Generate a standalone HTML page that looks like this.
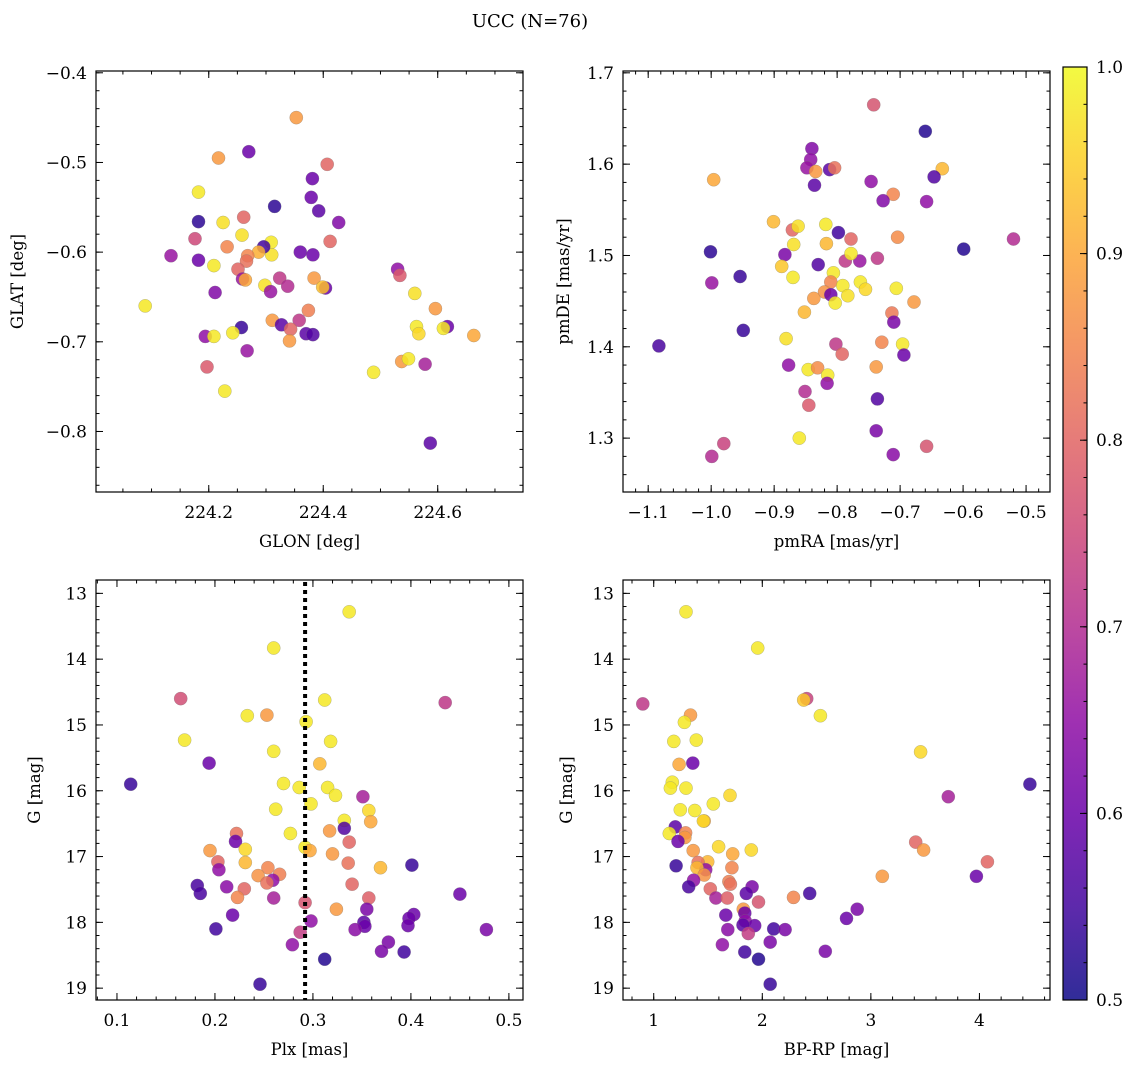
<!DOCTYPE html>
<html><head><meta charset="utf-8">
<style>
body{margin:0;background:#fff;}
svg{display:block;font-family:"DejaVu Serif","Liberation Serif",serif;}
</style></head>
<body>
<svg id="fig" width="1136" height="1067" viewBox="0 0 1136 1067" xmlns="http://www.w3.org/2000/svg">
<defs>
<linearGradient id="cbgrad" x1="0" y1="1" x2="0" y2="0">
<stop offset="0" stop-color="#0d0887"/><stop offset="0.1" stop-color="#41049d"/><stop offset="0.2" stop-color="#6a00a8"/><stop offset="0.3" stop-color="#8f0da4"/><stop offset="0.4" stop-color="#b12a90"/><stop offset="0.5" stop-color="#cc4778"/><stop offset="0.6" stop-color="#e16462"/><stop offset="0.7" stop-color="#f2844b"/><stop offset="0.8" stop-color="#fca636"/><stop offset="0.9" stop-color="#fcce25"/><stop offset="1" stop-color="#f0f921"/>
</linearGradient>
</defs>
<text x="530" y="27" font-size="18" text-anchor="middle">UCC (N=76)</text>
</svg>
<script>
// ---------- Panel 1: GLON vs GLAT ----------
const glonX=[224.353,224.270,224.217,224.407,224.182,224.381,224.379,224.315,224.392,224.427,224.182,224.225,224.261,224.258,224.176,224.412,224.134,224.182,224.232,224.209,224.309,224.310,224.296,224.287,224.268,224.266,224.360,224.382,224.251,224.259,224.264,224.324,224.338,224.298,224.308,224.211,224.384,224.404,224.399,224.089,224.374,224.358,224.311,224.327,224.343,224.341,224.370,224.382,224.257,224.242,224.194,224.209,224.267,224.197,224.228,224.530,224.534,224.560,224.596,224.563,224.567,224.617,224.610,224.663,224.537,224.549,224.578,224.488,224.587];
const glatY=[-0.450,-0.488,-0.495,-0.502,-0.533,-0.518,-0.539,-0.549,-0.554,-0.567,-0.566,-0.567,-0.561,-0.581,-0.585,-0.588,-0.604,-0.609,-0.594,-0.615,-0.589,-0.603,-0.594,-0.600,-0.604,-0.610,-0.600,-0.603,-0.619,-0.630,-0.631,-0.629,-0.638,-0.637,-0.644,-0.645,-0.629,-0.640,-0.639,-0.660,-0.665,-0.676,-0.676,-0.681,-0.686,-0.699,-0.691,-0.692,-0.684,-0.690,-0.694,-0.694,-0.710,-0.728,-0.755,-0.619,-0.626,-0.646,-0.663,-0.683,-0.691,-0.683,-0.685,-0.693,-0.722,-0.719,-0.725,-0.734,-0.813];
const glatC=[0.88,0.6,0.88,0.8,0.98,0.6,0.6,0.53,0.58,0.63,0.53,0.97,0.8,0.97,0.75,0.8,0.66,0.6,0.85,0.98,0.98,0.97,0.55,0.91,0.85,0.82,0.6,0.6,0.8,0.66,0.9,0.72,0.7,0.97,0.66,0.63,0.88,0.6,0.93,0.98,0.84,0.72,0.88,0.58,0.8,0.88,0.58,0.57,0.54,0.98,0.65,0.98,0.66,0.78,0.98,0.65,0.78,0.97,0.88,0.98,0.96,0.6,0.98,0.9,0.88,0.98,0.68,0.98,0.58];
const p1XTicks=[224.2,224.4,224.6];
const p1XLabels=["224.2","224.4","224.6"];
const p1YTicks=[-0.4,-0.5,-0.6,-0.7,-0.8];
const p1YLabels=["−0.4","−0.5","−0.6","−0.7","−0.8"];

// ---------- Panel 2: pmRA vs pmDE ----------
const pmraX=[-0.742,-0.660,-0.840,-0.842,-0.848,-0.834,-0.812,-0.804,-0.836,-0.996,-0.746,-0.633,-0.646,-0.711,-0.727,-0.658,-0.901,-0.871,-0.862,-0.818,-0.798,-0.778,-0.704,-0.520,-1.001,-0.599,-0.869,-0.817,-0.883,-0.888,-0.830,-0.787,-0.764,-0.778,-0.736,-0.999,-0.954,-0.870,-0.806,-0.810,-0.791,-0.763,-0.755,-0.820,-0.810,-0.783,-0.803,-0.837,-0.706,-0.678,-0.852,-0.713,-0.710,-0.949,-0.881,-1.083,-0.802,-0.729,-0.696,-0.792,-0.694,-0.877,-0.846,-0.831,-0.815,-0.816,-0.738,-0.851,-0.845,-0.736,-0.860,-0.738,-0.980,-0.999,-0.658,-0.711];
const pmdeY=[1.665,1.636,1.617,1.605,1.596,1.592,1.594,1.596,1.577,1.583,1.581,1.595,1.586,1.567,1.560,1.559,1.537,1.528,1.532,1.534,1.525,1.518,1.520,1.518,1.504,1.507,1.512,1.513,1.501,1.488,1.490,1.494,1.494,1.502,1.497,1.470,1.477,1.476,1.481,1.471,1.467,1.471,1.463,1.460,1.457,1.456,1.448,1.453,1.464,1.449,1.438,1.437,1.427,1.418,1.409,1.401,1.403,1.405,1.403,1.392,1.391,1.380,1.375,1.377,1.369,1.360,1.378,1.351,1.336,1.343,1.300,1.308,1.294,1.280,1.291,1.282];
const pmC=[0.77,0.52,0.63,0.65,0.66,0.88,0.58,0.82,0.58,0.9,0.65,0.92,0.57,0.85,0.63,0.65,0.92,0.8,0.97,0.98,0.55,0.8,0.86,0.7,0.53,0.52,0.97,0.92,0.62,0.94,0.57,0.72,0.66,0.98,0.72,0.66,0.54,0.98,0.98,0.85,0.98,0.98,0.96,0.87,0.6,0.97,0.98,0.88,0.98,0.88,0.92,0.83,0.62,0.54,0.97,0.56,0.72,0.85,0.98,0.8,0.6,0.65,0.98,0.86,0.98,0.65,0.88,0.7,0.78,0.57,0.98,0.62,0.74,0.7,0.77,0.64];
const p2XTicks=[-1.1,-1.0,-0.9,-0.8,-0.7,-0.6,-0.5];
const p2XLabels=["−1.1","−1.0","−0.9","−0.8","−0.7","−0.6","−0.5"];
const p2YTicks=[1.3,1.4,1.5,1.6,1.7];
const p2YLabels=["1.3","1.4","1.5","1.6","1.7"];

// ---------- Panel 3: Plx vs G ----------
const plxX=[0.337,0.260,0.165,0.312,0.435,0.233,0.253,0.293,0.169,0.318,0.260,0.307,0.194,0.114,0.270,0.286,0.315,0.323,0.298,0.351,0.262,0.357,0.359,0.332,0.332,0.277,0.317,0.222,0.221,0.337,0.195,0.231,0.292,0.297,0.320,0.203,0.231,0.336,0.204,0.401,0.369,0.254,0.244,0.266,0.259,0.253,0.182,0.185,0.212,0.230,0.340,0.450,0.223,0.260,0.357,0.292,0.324,0.355,0.218,0.403,0.398,0.298,0.201,0.352,0.353,0.397,0.343,0.477,0.287,0.279,0.377,0.370,0.393,0.312,0.246];
const gPlx=[13.28,13.83,14.60,14.62,14.66,14.86,14.85,14.95,15.23,15.25,15.40,15.59,15.58,15.90,15.89,15.95,15.95,16.07,16.20,16.09,16.28,16.30,16.47,16.45,16.57,16.65,16.61,16.65,16.77,16.78,16.91,16.89,16.86,16.91,16.96,17.08,17.09,17.10,17.20,17.13,17.17,17.17,17.29,17.27,17.36,17.40,17.44,17.56,17.46,17.49,17.42,17.57,17.62,17.63,17.63,17.70,17.80,17.80,17.89,17.88,17.94,17.98,18.10,18.00,18.06,18.05,18.11,18.11,18.15,18.34,18.30,18.44,18.45,18.56,18.94];
const plxC=[0.98,0.98,0.76,0.98,0.72,0.98,0.88,0.98,0.98,0.98,0.98,0.92,0.6,0.54,0.98,0.98,0.98,0.98,0.98,0.68,0.98,0.96,0.9,0.98,0.57,0.98,0.88,0.82,0.6,0.8,0.88,0.96,0.98,0.9,0.88,0.8,0.92,0.82,0.65,0.54,0.92,0.85,0.87,0.84,0.65,0.82,0.56,0.56,0.64,0.8,0.8,0.6,0.85,0.68,0.79,0.77,0.88,0.62,0.6,0.6,0.6,0.65,0.55,0.58,0.6,0.6,0.64,0.62,0.73,0.65,0.62,0.62,0.55,0.52,0.54];
const plxMean=[0.292];
const p3XTicks=[0.1,0.2,0.3,0.4,0.5];
const p3XLabels=["0.1","0.2","0.3","0.4","0.5"];
const p3YTicks=[13,14,15,16,17,18,19];
const p3YLabels=["13","14","15","16","17","18","19"];

// ---------- Panel 4: BP-RP vs G ----------
const bprpX=[1.297,1.958,0.899,2.409,2.381,2.535,1.339,1.283,1.185,1.392,3.458,1.234,1.360,4.465,1.171,1.154,1.297,1.703,3.713,1.549,1.245,1.378,1.465,1.458,1.199,1.143,1.294,1.287,1.224,3.413,3.486,1.899,1.364,1.598,1.727,4.073,1.497,1.409,1.479,1.206,1.399,1.720,1.465,3.105,3.972,1.692,1.367,1.706,1.322,1.906,1.853,1.521,2.437,2.287,1.573,1.678,1.965,1.825,2.874,1.839,1.664,2.776,1.843,1.930,1.822,2.105,2.210,1.682,1.871,1.633,2.073,2.580,1.839,1.965,2.073];
const gCmd=[13.28,13.83,14.68,14.60,14.62,14.86,14.85,14.96,15.25,15.23,15.41,15.60,15.58,15.90,15.87,15.96,15.96,16.07,16.09,16.20,16.29,16.30,16.46,16.46,16.55,16.65,16.64,16.71,16.77,16.78,16.90,16.90,16.91,16.85,16.96,17.08,17.08,17.09,17.20,17.14,17.17,17.17,17.28,17.30,17.30,17.38,17.36,17.42,17.46,17.46,17.56,17.49,17.56,17.62,17.63,17.63,17.69,17.80,17.80,17.86,17.89,17.94,17.98,18.05,18.04,18.10,18.11,18.11,18.17,18.34,18.30,18.44,18.45,18.56,18.94];
const cmdC=[0.98,0.98,0.72,0.74,0.94,0.98,0.88,0.98,0.98,0.98,0.96,0.9,0.6,0.54,0.98,0.98,0.98,0.96,0.68,0.98,0.98,0.98,0.9,0.96,0.58,0.98,0.85,0.88,0.6,0.8,0.88,0.96,0.88,0.96,0.9,0.8,0.92,0.82,0.65,0.54,0.92,0.85,0.87,0.88,0.6,0.84,0.65,0.82,0.56,0.62,0.58,0.8,0.55,0.85,0.68,0.79,0.77,0.88,0.62,0.6,0.6,0.6,0.65,0.6,0.58,0.55,0.62,0.64,0.73,0.65,0.62,0.62,0.55,0.52,0.54];
const p4XTicks=[1,2,3,4];
const p4XLabels=["1","2","3","4"];
const p4YTicks=[13,14,15,16,17,18,19];
const p4YLabels=["13","14","15","16","17","18","19"];

// ---------- Colorbar ----------
const cbTicks=[0.5,0.6,0.7,0.8,0.9,1.0];
const cbLabels=["0.5","0.6","0.7","0.8","0.9","1.0"];

const NS="http://www.w3.org/2000/svg";
const svg=document.getElementById('fig');
const plasma=[[13,8,135],[65,4,157],[106,0,168],[143,13,164],[177,42,144],[204,71,120],[225,100,98],[242,132,75],[252,166,54],[252,206,37],[240,249,33]];
function cmap(v){
  let t=(v-0.5)/0.5; t=Math.max(0,Math.min(1,t));
  const p=t*10, i=Math.min(9,Math.floor(p)), f=p-i;
  const a=plasma[i], b=plasma[i+1];
  return 'rgb('+a.map((c,k)=>Math.round(c+(b[k]-c)*f)).join(',')+')';
}
function mk(tag,attrs,parent){
  const e=document.createElementNS(NS,tag);
  for(const k in attrs) e.setAttribute(k,attrs[k]);
  (parent||svg).appendChild(e); return e;
}
const TF=17, AF=16.5;
function panel(cfg,xs,ys,cs){
  const g=mk('g',{});
  
  
  const sx=v=>cfg.L+(v-cfg.x0)/(cfg.x1-cfg.x0)*(cfg.R-cfg.L);
  const sy=cfg.inv? (v=>cfg.T+(v-cfg.y0)/(cfg.y1-cfg.y0)*(cfg.B-cfg.T)) : (v=>cfg.B-(v-cfg.y0)/(cfg.y1-cfg.y0)*(cfg.B-cfg.T));
  const pg=mk('g',{},g);
  
  
  for(let i=0;i<xs.length;i++){
    const c=mk('circle',{cx:sx(xs[i]).toFixed(1),cy:sy(ys[i]).toFixed(1),r:6.6,fill:cmap(cs[i]),'fill-opacity':0.85,stroke:'#777','stroke-opacity':0.5,'stroke-width':0.5},pg);
    
    
  }
  const fr=mk('rect',{x:cfg.L,y:cfg.T,width:cfg.R-cfg.L,height:cfg.B-cfg.T,fill:'none',stroke:'#000','stroke-width':1.2},g);
  
  
  if(cfg.vline!==undefined){
    const vg=mk('g',{fill:'#000'},g);
    
    
    const X=sx(cfg.vline);
    for(let y=cfg.T+2;y<cfg.B-1;y+=8){
      mk('rect',{x:(X-2).toFixed(1),y:y,width:4,height:Math.min(4,cfg.B-y)},vg);
    }
  }
  const tk=mk('g',{stroke:'#000','stroke-width':1},g);
  const eps=1e-9;
  const xa=Math.min(cfg.x0,cfg.x1), xb=Math.max(cfg.x0,cfg.x1);
  for(let v=Math.ceil(xa/cfg.xm-eps)*cfg.xm; v<=xb+eps; v+=cfg.xm){
    const X=sx(v); if(X<cfg.L+0.5||X>cfg.R-0.5) continue;
    mk('line',{x1:X,x2:X,y1:cfg.B,y2:cfg.B-3.5},tk); mk('line',{x1:X,x2:X,y1:cfg.T,y2:cfg.T+3.5},tk);
  }
  const ya=Math.min(cfg.y0,cfg.y1), yb=Math.max(cfg.y0,cfg.y1);
  for(let v=Math.ceil(ya/cfg.ym-eps)*cfg.ym; v<=yb+eps; v+=cfg.ym){
    const Y=sy(v); if(Y<cfg.T+0.5||Y>cfg.B-0.5) continue;
    mk('line',{x1:cfg.L,x2:cfg.L+3.5,y1:Y,y2:Y},tk); mk('line',{x1:cfg.R,x2:cfg.R-3.5,y1:Y,y2:Y},tk);
  }
  cfg.xt.forEach((v,i)=>{
    const X=sx(v);
    mk('line',{x1:X,x2:X,y1:cfg.B,y2:cfg.B-7},tk); mk('line',{x1:X,x2:X,y1:cfg.T,y2:cfg.T+7},tk);
    const t=mk('text',{x:X,y:cfg.B+26,'font-size':TF,'text-anchor':'middle'},g);
    t.textContent=cfg.xl[i];
    
    
  });
  cfg.yt.forEach((v,i)=>{
    const Y=sy(v);
    mk('line',{x1:cfg.L,x2:cfg.L+7,y1:Y,y2:Y},tk); mk('line',{x1:cfg.R,x2:cfg.R-7,y1:Y,y2:Y},tk);
    const t=mk('text',{x:cfg.L-9,y:Y+6,'font-size':TF,'text-anchor':'end'},g);
    t.textContent=cfg.yl[i];
    
    
  });
  const xt=mk('text',{x:(cfg.L+cfg.R)/2,y:cfg.B+55,'font-size':AF,'text-anchor':'middle'},g);
  xt.textContent=cfg.xtitle;
  
  
  const yx=cfg.ytx, yy=(cfg.T+cfg.B)/2;
  const yt=mk('text',{x:yx,y:yy,'font-size':AF,'text-anchor':'middle',transform:'rotate(-90 '+yx+' '+yy+')'},g);
  yt.textContent=cfg.ytitle;
  
  
}
panel({name:'glon-glat-panel',L:96,R:523,T:71,B:492,x0:224.003,x1:224.749,y0:-0.8675,y1:-0.398,xm:0.05,ym:0.02,xt:p1XTicks,xl:p1XLabels,yt:p1YTicks,yl:p1YLabels,xtitle:'GLON [deg]',ytitle:'GLAT [deg]',ytx:23},glonX,glatY,glatC);
panel({name:'pm-panel',L:623,R:1050,T:71,B:492,x0:-1.140,x1:-0.462,y0:1.241,y1:1.702,xm:0.02,ym:0.02,xt:p2XTicks,xl:p2XLabels,yt:p2YTicks,yl:p2YLabels,xtitle:'pmRA [mas/yr]',ytitle:'pmDE [mas/yr]',ytx:569},pmraX,pmdeY,pmC);
panel({name:'plx-g-panel',L:96,R:523,T:580,B:1000,x0:0.0786,x1:0.5144,y0:12.797,y1:19.18,inv:true,xm:0.02,ym:0.2,xt:p3XTicks,xl:p3XLabels,yt:p3YTicks,yl:p3YLabels,xtitle:'Plx [mas]',ytitle:'G [mag]',ytx:40,vline:plxMean[0]},plxX,gPlx,plxC);
panel({name:'cmd-panel',L:623,R:1050,T:580,B:1000,x0:0.717,x1:4.650,y0:12.797,y1:19.18,inv:true,xm:0.2,ym:0.2,xt:p4XTicks,xl:p4XLabels,yt:p4YTicks,yl:p4YLabels,xtitle:'BP-RP [mag]',ytitle:'G [mag]',ytx:572},bprpX,gCmd,cmdC);

const cb=mk('g',{});


const CL=1063,CR=1087,CT=67,CB=1000;
mk('rect',{x:CL,y:CT,width:CR-CL,height:CB-CT,fill:'url(#cbgrad)','fill-opacity':0.85},cb);
mk('rect',{x:CL,y:CT,width:CR-CL,height:CB-CT,fill:'none',stroke:'#000','stroke-width':1.2},cb);
const cy=v=>CB-(v-0.5)/0.5*(CB-CT);
for(let v=0.5;v<=1.0001;v+=0.02){ mk('line',{x1:CR,x2:CR-3.5,y1:cy(v),y2:cy(v),stroke:'#000','stroke-width':1},cb); }
cbTicks.forEach((v,i)=>{
  mk('line',{x1:CR,x2:CR-7,y1:cy(v),y2:cy(v),stroke:'#000','stroke-width':1},cb);
  const t=mk('text',{x:CR+9,y:cy(v)+6,'font-size':TF},cb);
  t.textContent=cbLabels[i];
  
  
});
</script>
</body></html>
